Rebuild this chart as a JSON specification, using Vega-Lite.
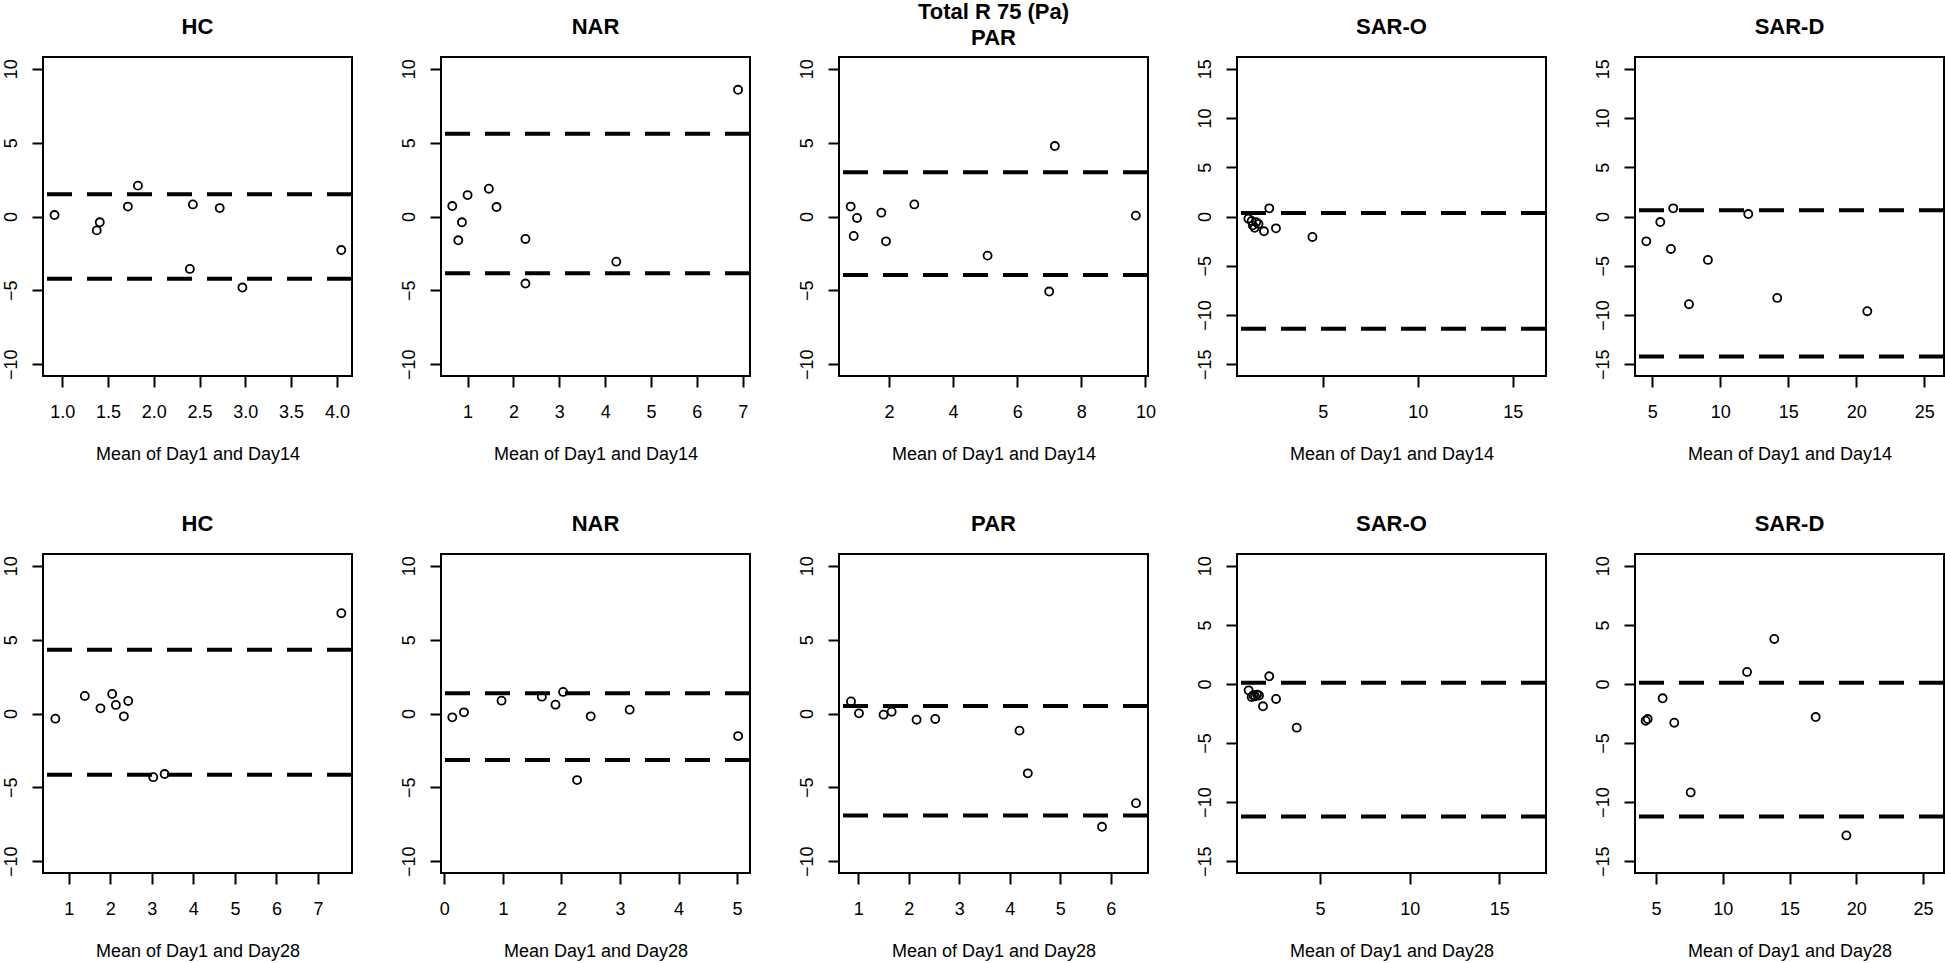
{
  "$schema": "https://vega.github.io/schema/vega-lite/v6.json",
  "background": "white",
  "padding": {"left": 1, "top": 0, "right": 0, "bottom": 0},
  "config": {
    "font": "Liberation Sans",
    "view": {"stroke": "black", "strokeWidth": 2},
    "axis": {"grid": false, "domain": false, "tickColor": "black", "tickWidth": 2, "tickSize": 11, "labelColor": "black", "labelFontSize": 18, "labelFont": "Liberation Sans", "titleFontSize": 18, "titleFontWeight": "normal", "titleColor": "black", "titleFont": "Liberation Sans", "labelOverlap": false, "labelFlush": false},
    "axisX": {"labelPadding": 30, "labelBaseline": "alphabetic", "titleY": 83, "titleBaseline": "alphabetic"},
    "axisY": {"labelAngle": -90, "labelAlign": "center", "labelBaseline": "middle", "labelPadding": 21, "title": null},
    "title": {"fontSize": 22, "fontWeight": "bold", "font": "Liberation Sans", "color": "black", "baseline": "alphabetic", "offset": 18}
  },
  "datasets": {
    "pts": [
      {"panel": "p1", "x": 0.916, "y": 0.10}, {"panel": "p1", "x": 1.377, "y": -0.94}, {"panel": "p1", "x": 1.41, "y": -0.39}, {"panel": "p1", "x": 1.717, "y": 0.67}, {"panel": "p1", "x": 1.827, "y": 2.09}, {"panel": "p1", "x": 2.427, "y": 0.82}, {"panel": "p1", "x": 2.394, "y": -3.55}, {"panel": "p1", "x": 2.72, "y": 0.57}, {"panel": "p1", "x": 2.968, "y": -4.81}, {"panel": "p1", "x": 4.048, "y": -2.27},
      {"panel": "p2", "x": 0.666, "y": 0.71}, {"panel": "p2", "x": 0.797, "y": -1.61}, {"panel": "p2", "x": 0.877, "y": -0.39}, {"panel": "p2", "x": 1.0, "y": 1.45}, {"panel": "p2", "x": 1.464, "y": 1.88}, {"panel": "p2", "x": 1.631, "y": 0.64}, {"panel": "p2", "x": 2.262, "y": -1.52}, {"panel": "p2", "x": 2.262, "y": -4.54}, {"panel": "p2", "x": 4.243, "y": -3.06}, {"panel": "p2", "x": 6.899, "y": 8.58},
      {"panel": "p3", "x": 0.805, "y": 0.67}, {"panel": "p3", "x": 0.899, "y": -1.32}, {"panel": "p3", "x": 1.003, "y": -0.10}, {"panel": "p3", "x": 1.761, "y": 0.26}, {"panel": "p3", "x": 1.906, "y": -1.68}, {"panel": "p3", "x": 2.79, "y": 0.82}, {"panel": "p3", "x": 5.075, "y": -2.65}, {"panel": "p3", "x": 7.174, "y": 4.77}, {"panel": "p3", "x": 6.997, "y": -5.08}, {"panel": "p3", "x": 9.70, "y": 0.06},
      {"panel": "p4", "x": 1.09, "y": -0.22}, {"panel": "p4", "x": 1.26, "y": -0.46}, {"panel": "p4", "x": 1.32, "y": -0.90}, {"panel": "p4", "x": 1.42, "y": -1.15}, {"panel": "p4", "x": 1.50, "y": -0.58}, {"panel": "p4", "x": 1.62, "y": -0.75}, {"panel": "p4", "x": 1.91, "y": -1.5}, {"panel": "p4", "x": 2.19, "y": 0.83}, {"panel": "p4", "x": 2.54, "y": -1.20}, {"panel": "p4", "x": 4.46, "y": -2.08},
      {"panel": "p5", "x": 4.56, "y": -2.52}, {"panel": "p5", "x": 5.59, "y": -0.56}, {"panel": "p5", "x": 6.37, "y": -3.30}, {"panel": "p5", "x": 6.54, "y": 0.83}, {"panel": "p5", "x": 7.70, "y": -8.91}, {"panel": "p5", "x": 9.09, "y": -4.41}, {"panel": "p5", "x": 12.06, "y": 0.25}, {"panel": "p5", "x": 14.19, "y": -8.27}, {"panel": "p5", "x": 20.81, "y": -9.62},
      {"panel": "p6", "x": 0.678, "y": -0.35}, {"panel": "p6", "x": 1.386, "y": 1.19}, {"panel": "p6", "x": 1.764, "y": 0.35}, {"panel": "p6", "x": 2.046, "y": 1.32}, {"panel": "p6", "x": 2.134, "y": 0.58}, {"panel": "p6", "x": 2.327, "y": -0.19}, {"panel": "p6", "x": 2.432, "y": 0.85}, {"panel": "p6", "x": 3.035, "y": -4.31}, {"panel": "p6", "x": 3.308, "y": -4.10}, {"panel": "p6", "x": 7.563, "y": 6.79},
      {"panel": "p7", "x": 0.136, "y": -0.26}, {"panel": "p7", "x": 0.335, "y": 0.08}, {"panel": "p7", "x": 0.977, "y": 0.87}, {"panel": "p7", "x": 1.665, "y": 1.14}, {"panel": "p7", "x": 1.898, "y": 0.60}, {"panel": "p7", "x": 2.028, "y": 1.46}, {"panel": "p7", "x": 2.267, "y": -4.51}, {"panel": "p7", "x": 2.5, "y": -0.19}, {"panel": "p7", "x": 3.165, "y": 0.26}, {"panel": "p7", "x": 5.017, "y": -1.53},
      {"panel": "p8", "x": 0.855, "y": 0.82}, {"panel": "p8", "x": 1.013, "y": 0.01}, {"panel": "p8", "x": 1.50, "y": -0.08}, {"panel": "p8", "x": 1.66, "y": 0.12}, {"panel": "p8", "x": 2.154, "y": -0.42}, {"panel": "p8", "x": 2.524, "y": -0.37}, {"panel": "p8", "x": 4.193, "y": -1.16}, {"panel": "p8", "x": 4.358, "y": -4.05}, {"panel": "p8", "x": 5.828, "y": -7.67}, {"panel": "p8", "x": 6.501, "y": -6.07},
      {"panel": "p9", "x": 1.02, "y": -0.54}, {"panel": "p9", "x": 1.19, "y": -1.10}, {"panel": "p9", "x": 1.28, "y": -0.95}, {"panel": "p9", "x": 1.38, "y": -1.05}, {"panel": "p9", "x": 1.49, "y": -0.90}, {"panel": "p9", "x": 1.60, "y": -0.98}, {"panel": "p9", "x": 1.82, "y": -1.89}, {"panel": "p9", "x": 2.17, "y": 0.65}, {"panel": "p9", "x": 2.55, "y": -1.27}, {"panel": "p9", "x": 3.70, "y": -3.70},
      {"panel": "p10", "x": 4.23, "y": -3.11}, {"panel": "p10", "x": 4.38, "y": -2.97}, {"panel": "p10", "x": 5.50, "y": -1.21}, {"panel": "p10", "x": 6.37, "y": -3.28}, {"panel": "p10", "x": 7.60, "y": -9.18}, {"panel": "p10", "x": 11.82, "y": 1.02}, {"panel": "p10", "x": 13.86, "y": 3.81}, {"panel": "p10", "x": 16.96, "y": -2.80}, {"panel": "p10", "x": 19.26, "y": -12.82}
    ],
    "lines": [
      {"panel": "p1", "y": 1.50}, {"panel": "p1", "y": -4.21},
      {"panel": "p2", "y": 5.60}, {"panel": "p2", "y": -3.84},
      {"panel": "p3", "y": 2.99}, {"panel": "p3", "y": -3.96},
      {"panel": "p4", "y": 0.36}, {"panel": "p4", "y": -11.41},
      {"panel": "p5", "y": 0.63}, {"panel": "p5", "y": -14.22},
      {"panel": "p6", "y": 4.31}, {"panel": "p6", "y": -4.15},
      {"panel": "p7", "y": 1.37}, {"panel": "p7", "y": -3.15},
      {"panel": "p8", "y": 0.51}, {"panel": "p8", "y": -6.90},
      {"panel": "p9", "y": 0.11}, {"panel": "p9", "y": -11.21},
      {"panel": "p10", "y": 0.11}, {"panel": "p10", "y": -11.21}
    ]
  },
  "columns": 5,
  "bounds": "flush",
  "spacing": {"row": 178, "column": 89},
  "concat": [
    {
      "width": 309, "height": 319, "title": {"text": "HC"},
      "layer": [
        {"data": {"name": "pts"}, "transform": [{"filter": "datum.panel === 'p1'"}], "mark": {"type": "point", "shape": "circle", "filled": false, "color": "black", "size": 65, "strokeWidth": 1.8, "opacity": 1},
         "encoding": {"x": {"field": "x", "type": "quantitative", "scale": {"domain": [0.79, 4.165], "nice": false, "zero": false}, "axis": {"values": [1, 1.5, 2, 2.5, 3, 3.5, 4], "format": ".1f", "title": "Mean of Day1 and Day14"}},
                      "y": {"field": "y", "type": "quantitative", "scale": {"domain": [-10.8, 10.8], "nice": false, "zero": false}, "axis": {"values": [-10, -5, 0, 5, 10]}}}},
        {"data": {"name": "lines"}, "transform": [{"filter": "datum.panel === 'p1'"}], "mark": {"type": "rule", "color": "black", "strokeWidth": 4, "strokeDash": [25, 15]},
         "encoding": {"y": {"field": "y", "type": "quantitative"}}}
      ]
    },
    {
      "width": 309, "height": 319, "title": {"text": "NAR"},
      "layer": [
        {"data": {"name": "pts"}, "transform": [{"filter": "datum.panel === 'p2'"}], "mark": {"type": "point", "shape": "circle", "filled": false, "color": "black", "size": 65, "strokeWidth": 1.8, "opacity": 1},
         "encoding": {"x": {"field": "x", "type": "quantitative", "scale": {"domain": [0.42, 7.16], "nice": false, "zero": false}, "axis": {"values": [1, 2, 3, 4, 5, 6, 7], "title": "Mean of Day1 and Day14"}},
                      "y": {"field": "y", "type": "quantitative", "scale": {"domain": [-10.8, 10.8], "nice": false, "zero": false}, "axis": {"values": [-10, -5, 0, 5, 10]}}}},
        {"data": {"name": "lines"}, "transform": [{"filter": "datum.panel === 'p2'"}], "mark": {"type": "rule", "color": "black", "strokeWidth": 4, "strokeDash": [25, 15]},
         "encoding": {"y": {"field": "y", "type": "quantitative"}}}
      ]
    },
    {
      "width": 309, "height": 319, "title": {"text": ["Total R 75 (Pa)", "PAR"], "lineHeight": 26, "offset": 7},
      "layer": [
        {"data": {"name": "pts"}, "transform": [{"filter": "datum.panel === 'p3'"}], "mark": {"type": "point", "shape": "circle", "filled": false, "color": "black", "size": 65, "strokeWidth": 1.8, "opacity": 1},
         "encoding": {"x": {"field": "x", "type": "quantitative", "scale": {"domain": [0.44, 10.08], "nice": false, "zero": false}, "axis": {"values": [2, 4, 6, 8, 10], "title": "Mean of Day1 and Day14"}},
                      "y": {"field": "y", "type": "quantitative", "scale": {"domain": [-10.8, 10.8], "nice": false, "zero": false}, "axis": {"values": [-10, -5, 0, 5, 10]}}}},
        {"data": {"name": "lines"}, "transform": [{"filter": "datum.panel === 'p3'"}], "mark": {"type": "rule", "color": "black", "strokeWidth": 4, "strokeDash": [25, 15]},
         "encoding": {"y": {"field": "y", "type": "quantitative"}}}
      ]
    },
    {
      "width": 309, "height": 319, "title": {"text": "SAR-O"},
      "layer": [
        {"data": {"name": "pts"}, "transform": [{"filter": "datum.panel === 'p4'"}], "mark": {"type": "point", "shape": "circle", "filled": false, "color": "black", "size": 65, "strokeWidth": 1.8, "opacity": 1},
         "encoding": {"x": {"field": "x", "type": "quantitative", "scale": {"domain": [0.49, 16.75], "nice": false, "zero": false}, "axis": {"values": [5, 10, 15], "title": "Mean of Day1 and Day14"}},
                      "y": {"field": "y", "type": "quantitative", "scale": {"domain": [-16.2, 16.2], "nice": false, "zero": false}, "axis": {"values": [-15, -10, -5, 0, 5, 10, 15]}}}},
        {"data": {"name": "lines"}, "transform": [{"filter": "datum.panel === 'p4'"}], "mark": {"type": "rule", "color": "black", "strokeWidth": 4, "strokeDash": [25, 15]},
         "encoding": {"y": {"field": "y", "type": "quantitative"}}}
      ]
    },
    {
      "width": 309, "height": 319, "title": {"text": "SAR-D"},
      "layer": [
        {"data": {"name": "pts"}, "transform": [{"filter": "datum.panel === 'p5'"}], "mark": {"type": "point", "shape": "circle", "filled": false, "color": "black", "size": 65, "strokeWidth": 1.8, "opacity": 1},
         "encoding": {"x": {"field": "x", "type": "quantitative", "scale": {"domain": [3.73, 26.45], "nice": false, "zero": false}, "axis": {"values": [5, 10, 15, 20, 25], "title": "Mean of Day1 and Day14"}},
                      "y": {"field": "y", "type": "quantitative", "scale": {"domain": [-16.2, 16.2], "nice": false, "zero": false}, "axis": {"values": [-15, -10, -5, 0, 5, 10, 15]}}}},
        {"data": {"name": "lines"}, "transform": [{"filter": "datum.panel === 'p5'"}], "mark": {"type": "rule", "color": "black", "strokeWidth": 4, "strokeDash": [25, 15]},
         "encoding": {"y": {"field": "y", "type": "quantitative"}}}
      ]
    },
    {
      "width": 309, "height": 319, "title": {"text": "HC"},
      "layer": [
        {"data": {"name": "pts"}, "transform": [{"filter": "datum.panel === 'p6'"}], "mark": {"type": "point", "shape": "circle", "filled": false, "color": "black", "size": 65, "strokeWidth": 1.8, "opacity": 1},
         "encoding": {"x": {"field": "x", "type": "quantitative", "scale": {"domain": [0.38, 7.82], "nice": false, "zero": false}, "axis": {"values": [1, 2, 3, 4, 5, 6, 7], "title": "Mean of Day1 and Day28"}},
                      "y": {"field": "y", "type": "quantitative", "scale": {"domain": [-10.8, 10.8], "nice": false, "zero": false}, "axis": {"values": [-10, -5, 0, 5, 10]}}}},
        {"data": {"name": "lines"}, "transform": [{"filter": "datum.panel === 'p6'"}], "mark": {"type": "rule", "color": "black", "strokeWidth": 4, "strokeDash": [25, 15]},
         "encoding": {"y": {"field": "y", "type": "quantitative"}}}
      ]
    },
    {
      "width": 309, "height": 319, "title": {"text": "NAR"},
      "layer": [
        {"data": {"name": "pts"}, "transform": [{"filter": "datum.panel === 'p7'"}], "mark": {"type": "point", "shape": "circle", "filled": false, "color": "black", "size": 65, "strokeWidth": 1.8, "opacity": 1},
         "encoding": {"x": {"field": "x", "type": "quantitative", "scale": {"domain": [-0.057, 5.22], "nice": false, "zero": false}, "axis": {"values": [0, 1, 2, 3, 4, 5], "title": "Mean Day1 and Day28"}},
                      "y": {"field": "y", "type": "quantitative", "scale": {"domain": [-10.8, 10.8], "nice": false, "zero": false}, "axis": {"values": [-10, -5, 0, 5, 10]}}}},
        {"data": {"name": "lines"}, "transform": [{"filter": "datum.panel === 'p7'"}], "mark": {"type": "rule", "color": "black", "strokeWidth": 4, "strokeDash": [25, 15]},
         "encoding": {"y": {"field": "y", "type": "quantitative"}}}
      ]
    },
    {
      "width": 309, "height": 319, "title": {"text": "PAR"},
      "layer": [
        {"data": {"name": "pts"}, "transform": [{"filter": "datum.panel === 'p8'"}], "mark": {"type": "point", "shape": "circle", "filled": false, "color": "black", "size": 65, "strokeWidth": 1.8, "opacity": 1},
         "encoding": {"x": {"field": "x", "type": "quantitative", "scale": {"domain": [0.617, 6.739], "nice": false, "zero": false}, "axis": {"values": [1, 2, 3, 4, 5, 6], "title": "Mean of Day1 and Day28"}},
                      "y": {"field": "y", "type": "quantitative", "scale": {"domain": [-10.8, 10.8], "nice": false, "zero": false}, "axis": {"values": [-10, -5, 0, 5, 10]}}}},
        {"data": {"name": "lines"}, "transform": [{"filter": "datum.panel === 'p8'"}], "mark": {"type": "rule", "color": "black", "strokeWidth": 4, "strokeDash": [25, 15]},
         "encoding": {"y": {"field": "y", "type": "quantitative"}}}
      ]
    },
    {
      "width": 309, "height": 319, "title": {"text": "SAR-O"},
      "layer": [
        {"data": {"name": "pts"}, "transform": [{"filter": "datum.panel === 'p9'"}], "mark": {"type": "point", "shape": "circle", "filled": false, "color": "black", "size": 65, "strokeWidth": 1.8, "opacity": 1},
         "encoding": {"x": {"field": "x", "type": "quantitative", "scale": {"domain": [0.372, 17.6], "nice": false, "zero": false}, "axis": {"values": [5, 10, 15], "title": "Mean of Day1 and Day28"}},
                      "y": {"field": "y", "type": "quantitative", "scale": {"domain": [-16, 11], "nice": false, "zero": false}, "axis": {"values": [-15, -10, -5, 0, 5, 10]}}}},
        {"data": {"name": "lines"}, "transform": [{"filter": "datum.panel === 'p9'"}], "mark": {"type": "rule", "color": "black", "strokeWidth": 4, "strokeDash": [25, 15]},
         "encoding": {"y": {"field": "y", "type": "quantitative"}}}
      ]
    },
    {
      "width": 309, "height": 319, "title": {"text": "SAR-D"},
      "layer": [
        {"data": {"name": "pts"}, "transform": [{"filter": "datum.panel === 'p10'"}], "mark": {"type": "point", "shape": "circle", "filled": false, "color": "black", "size": 65, "strokeWidth": 1.8, "opacity": 1},
         "encoding": {"x": {"field": "x", "type": "quantitative", "scale": {"domain": [3.43, 26.57], "nice": false, "zero": false}, "axis": {"values": [5, 10, 15, 20, 25], "title": "Mean of Day1 and Day28"}},
                      "y": {"field": "y", "type": "quantitative", "scale": {"domain": [-16, 11], "nice": false, "zero": false}, "axis": {"values": [-15, -10, -5, 0, 5, 10]}}}},
        {"data": {"name": "lines"}, "transform": [{"filter": "datum.panel === 'p10'"}], "mark": {"type": "rule", "color": "black", "strokeWidth": 4, "strokeDash": [25, 15]},
         "encoding": {"y": {"field": "y", "type": "quantitative"}}}
      ]
    }
  ]
}
